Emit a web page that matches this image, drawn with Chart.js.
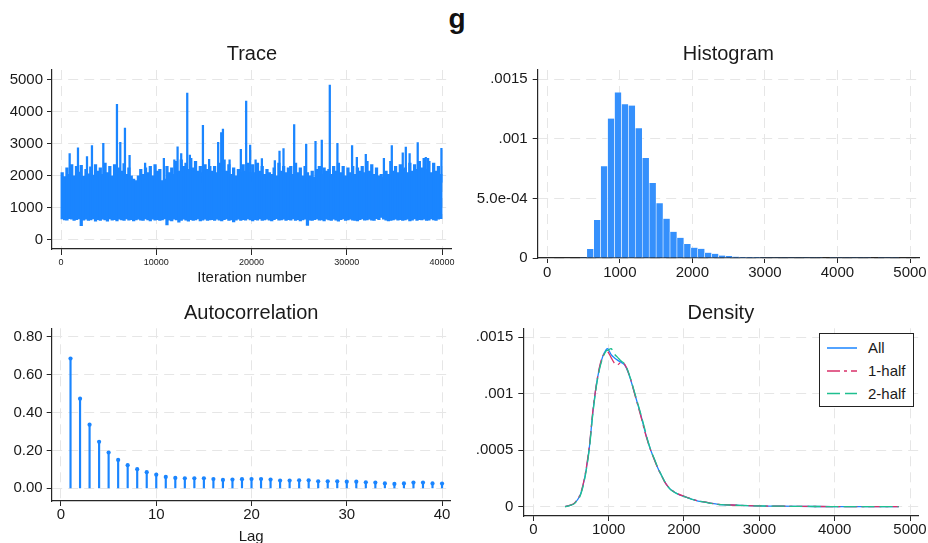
<!DOCTYPE html>
<html><head><meta charset="utf-8">
<script src="https://cdn.jsdelivr.net/npm/chart.js@4.4.1/dist/chart.umd.min.js"></script>
<style>
html,body{margin:0;padding:0;width:928px;height:543px;overflow:hidden;background:#fff;}
canvas{position:absolute;}
#main{position:absolute;left:0;top:5px;width:914px;text-align:center;font:bold 28px "Liberation Sans",Arial,sans-serif;line-height:28px;color:#111;}
#legend{position:absolute;left:819px;top:333px;width:95px;height:74px;box-sizing:border-box;border:1px solid #222;background:#fff;font:15px "Liberation Sans",Arial,sans-serif;color:#1a1a1a;}
#legend svg{position:absolute;left:0;top:0;}
#legend span{position:absolute;left:48px;line-height:18px;}
</style></head><body>
<div id="main">g</div>
<canvas id="c1" width="464" height="260" style="left:0;top:30px"></canvas>
<canvas id="c2" width="464" height="260" style="left:464px;top:30px"></canvas>
<canvas id="c3" width="464" height="270" style="left:0;top:290px"></canvas>
<canvas id="c4" width="464" height="253" style="left:464px;top:290px"></canvas>
<div id="legend"></div>
<script>
// ---------------- DATA ----------------
// Trace: envelope of the MCMC chain per bin of 250 iterations
const traceBinWidth = 250;
const traceHi = [
 2100,1980,2250,2050,2350,2000,2300,2120,2330,1990,2200,2060,2280,2020,2350,2150,
 2250,2050,2400,2100,2300,2000,2350,2080,2250,2150,2380,2050,2250,2000,1900,1850,
 2000,2200,2050,2250,2100,2300,2000,2350,2150,2200,1850,1900,2300,2100,2250,2050,
 2450,2150,2500,2300,2400,2200,2550,2250,2450,2150,2300,2100,2350,2200,2300,2150,
 2300,2100,2400,2250,2500,2150,2350,2050,2250,2000,2200,2100,2350,2150,2400,2100,
 2350,2100,2400,2150,2300,2050,2200,2100,2050,2250,2000,2400,2150,2300,2100,2250,
 2300,2050,2400,2100,2250,2000,2300,2100,2000,2150,1950,2200,2300,2050,2250,2150,
 2200,2050,2300,2150,2400,2100,2300,2000,2250,2100,2300,2050,2250,2150,2300,2100,
 2450,2150,2350,2050,2250,2000,2050,1950,2150,2050,2450,2150,2300,2100,2350,2200,
 2250,2100,2400,2150,2350,2200,2450,2250,2550,2200,2450,2100,2400,2150,2300,2050
];
const traceLo = [
 650,620,610,660,640,600,630,650,440,610,640,600,620,650,580,630,
 600,640,620,580,650,610,630,590,640,620,600,650,610,630,590,620,
 640,610,600,650,620,590,640,610,630,600,620,650,460,610,590,640,
 620,550,600,640,610,580,630,600,620,650,590,610,640,600,620,630,
 600,640,610,590,630,650,600,620,560,610,640,600,630,610,650,620,
 590,630,610,650,600,620,640,610,590,630,660,610,620,640,600,630,
 610,650,600,630,590,620,640,450,610,600,630,650,610,620,590,640,
 620,600,640,610,580,630,650,600,620,640,610,600,590,630,650,610,
 620,640,610,600,660,630,700,640,610,590,600,620,640,610,630,600,
 620,640,590,610,650,600,630,620,640,600,610,650,620,600,640,660
];
const spikeIter = [910,1783,2730,3250,4440,5875,6225,6714,7200,8830,10800,11900,12240,12620,13254,13530,14900,15550,16500,16820,17000,17700,18880,19440,19860,20430,21090,22450,22940,23360,24480,25740,26720,27380,28220,29020,30560,31060,32000,33900,34730,35880,36200,36600,37450,38300,38540,39940];
const spikeVal  = [2700,2880,2600,2945,3017,4239,3050,3497,2640,2400,2550,2500,2910,2700,4593,2650,3580,2520,3050,3350,3466,2500,2830,4343,2965,2500,2537,2480,2777,2850,3602,2996,3080,3120,4844,3017,2945,2580,2673,2550,2945,2720,2900,2700,3040,2580,2550,2860];
const spikeBase = 1800;
const traceXTicks = [0,10000,20000,30000,40000];
const traceXLabels = ['0','10000','20000','30000','40000'];
const traceYTicks = [0,1000,2000,3000,4000,5000];
const traceYLabels = ['0','1000','2000','3000','4000','5000'];

// Histogram: 46 equal-width bins
const histStart = 449, histWidth = 95.6;
const histDens = [
 0.000006,0.000075,0.00032,0.00077,0.00117,0.00139,0.00129,0.00128,0.00109,0.00084,
 0.00063,0.00046,0.00033,0.00022,0.00017,0.000117,0.000087,0.000078,0.000045,0.000036,
 0.00002,0.000017,0.000011,0.000009,0.000008,0.000008,0.000007,0.000007,0.000006,0.000006,
 0.000006,0.000006,0.000006,0.000006,0.000006,0,0.000006,0.000006,0.000006,0.000006,
 0.000006,0.000006,0,0.000006,0.000006,0.000006
];
const histXTicks = [0,1000,2000,3000,4000,5000];
const histXLabels = ['0','1000','2000','3000','4000','5000'];
const histYTicks = [0,0.0005,0.001,0.0015];
const histYLabels = ['0','5.0e-04','.001','.0015'];

// Autocorrelation
const acfLags = [1,2,3,4,5,6,7,8,9,10,11,12,13,14,15,16,17,18,19,20,21,22,23,24,25,26,27,28,29,30,31,32,33,34,35,36,37,38,39,40];
const acfVals = [0.685,0.473,0.336,0.245,0.189,0.150,0.122,0.101,0.085,0.072,
 0.060,0.055,0.053,0.053,0.053,0.049,0.044,0.046,0.048,0.049,
 0.049,0.046,0.041,0.041,0.042,0.042,0.037,0.037,0.037,0.035,
 0.035,0.032,0.030,0.026,0.023,0.026,0.030,0.030,0.026,0.025];
const acfXTicks = [0,10,20,30,40];
const acfXLabels = ['0','10','20','30','40'];
const acfYTicks = [0,0.2,0.4,0.6,0.8];
const acfYLabels = ['0.00','0.20','0.40','0.60','0.80'];

// Density
const densX = [421,501,545,612,656,701,745,789,834,878,922,967,989,1033,1078,1122,1166,1211,1255,1299,1344,1388,1432,1477,1521,1565,1610,1654,1698,1743,1787,1831,1920,2009,2098,2186,2275,2364,2452,2630,2851,3073,3517,3960,4400,4850];
const densAll = [0,0.0000148,0.0000296,0.0000888,0.000178,0.000325,0.000533,0.000828,0.001065,0.001228,0.001331,0.001391,0.001399,0.001346,0.001317,0.001296,0.001278,0.001257,0.001198,0.001109,0.001006,0.000902,0.000799,0.00068,0.000577,0.000488,0.000414,0.00034,0.000281,0.000222,0.000178,0.000148,0.000112,0.0000888,0.000068,0.00005,0.0000414,0.0000296,0.0000207,0.0000148,0.0000089,0.0000059,0.000003,0.000001,0.0000005,0];
const densHalf1 = [0,0.000016,0.000032,0.000095,0.000185,0.000335,0.000545,0.00084,0.00107,0.001235,0.001335,0.00137,0.001372,0.00132,0.00127,0.001258,0.00128,0.001262,0.0012,0.001112,0.001,0.000896,0.00079,0.000672,0.000572,0.000486,0.00041,0.000338,0.00028,0.00022,0.00018,0.00015,0.000113,0.00009,0.000069,0.000051,0.000042,0.00003,0.000021,0.000015,0.000009,0.000006,0.000003,0.000001,0.0000005,0];
const densHalf2 = [0,0.000013,0.000027,0.000082,0.00017,0.000315,0.00052,0.000815,0.001055,0.001215,0.00132,0.00138,0.001385,0.0014,0.00135,0.00132,0.00129,0.001265,0.001205,0.001115,0.001012,0.00091,0.000808,0.000695,0.000582,0.00049,0.000418,0.000342,0.000282,0.000224,0.000177,0.000146,0.000111,0.000088,0.000067,0.000049,0.000041,0.000029,0.00002,0.000014,0.000009,0.000006,0.000003,0.000001,0.0000005,0];
const densXTicks = [0,1000,2000,3000,4000,5000];
const densXLabels = ['0','1000','2000','3000','4000','5000'];
const densYTicks = [0,0.0005,0.001,0.0015];
const densYLabels = ['0','.0005','.001','.0015'];
const densNames = ['All','1-half','2-half'];

// ---------------- STYLE ----------------
const FONT = '"Liberation Sans", Arial, Helvetica, sans-serif';
Chart.defaults.font.family = FONT;
Chart.defaults.color = '#1a1a1a';
const BLUE = '#1a85ff', PINK = '#d9306a', GREEN = '#1fbf8f';
const GRID = '#e6e6e6', AXIS = '#262626';
const DASH_GRID = [10, 6];
const DASH1 = [13, 4, 3, 4], DASH2 = [13, 5];

function fixTicks(vals){ return s => { s.ticks = vals.map(v => ({value: v})); }; }
function xScale(o){
  return {
    type:'linear', min:o.min, max:o.max, offset:false, bounds:'data',
    grid:{offset:false, color:GRID, lineWidth:1, tickLength:o.tl, tickColor:AXIS, tickWidth:1},
    border:{display:true, color:AXIS, width:1.2, dash:DASH_GRID},
    ticks:{font:{size:o.fs}, padding:o.pad, autoSkip:false, maxRotation:0, color:'#1a1a1a',
      callback:(v,i)=>o.labels[i]},
    title: o.title ? {display:true, text:o.title, font:{size:15}, padding:{top:0,bottom:0}, color:'#1a1a1a'} : {display:false},
    afterBuildTicks: fixTicks(o.ticks),
    afterFit: s => { s.height = o.h; s.paddingLeft = 0; s.paddingRight = 0; s.paddingTop = 0; s.paddingBottom = 0; }
  };
}
function yScale(o){
  return {
    type:'linear', min:o.min, max:o.max, offset:false, bounds:'data', beginAtZero:false,
    grid:{offset:false, color:GRID, lineWidth:1, tickLength:5, tickColor:AXIS, tickWidth:1},
    border:{display:true, color:AXIS, width:1.2, dash:DASH_GRID},
    ticks:{font:{size:15}, padding:o.pad, autoSkip:false, color:'#1a1a1a', callback:(v,i)=>o.labels[i]},
    afterBuildTicks: fixTicks(o.ticks),
    afterFit: s => { s.width = o.w; s.paddingLeft = 0; s.paddingRight = 0; s.paddingTop = 0; s.paddingBottom = 0; }
  };
}
function titleOpts(text, top, bottom){
  return {display:true, text, fullSize:false, font:{size:20, weight:'normal'}, padding:{top, bottom}, color:'#1a1a1a'};
}
const common = { responsive:false, animation:false, events:[] };

// ---------------- TRACE ----------------
new Chart(document.getElementById('c1'), {
  type:'bar',
  data:{datasets:[
    {data: traceHi.map((h,i)=>({x:(i+0.5)*traceBinWidth, y:[traceLo[i], h]})), backgroundColor:BLUE, borderWidth:0, barThickness:2.6, grouped:false},
    {data: spikeIter.map((t,i)=>({x:t, y:[spikeBase, spikeVal[i]]})), backgroundColor:BLUE, borderWidth:0, barThickness:1.6, grouped:false}
  ]},
  options:{...common,
    layout:{padding:{left:0, right:12.3, top:0, bottom:3}},
    plugins:{legend:{display:false}, tooltip:{enabled:false}, title:titleOpts('Trace', 12, 4)},
    scales:{
      x:xScale({min:-945, max:41018, ticks:traceXTicks, labels:traceXLabels, fs:9, tl:6, pad:2, h:38, title:'Iteration number'}),
      y:yScale({min:-291, max:5313, ticks:traceYTicks, labels:traceYLabels, w:52, pad:4})
    }
  }
});

// ---------------- HISTOGRAM ----------------
new Chart(document.getElementById('c2'), {
  type:'bar',
  data:{datasets:[
    {data: histDens.map((d,i)=>({x:histStart + (i+0.5)*histWidth, y:d})), backgroundColor:'#3590fc',
     borderColor:'rgba(255,255,255,0.75)', borderWidth:{left:0.6,right:0.6,top:0,bottom:0}, borderSkipped:false,
     barPercentage:1, categoryPercentage:1, grouped:false}
  ]},
  options:{...common,
    layout:{padding:{left:0, right:9, top:0, bottom:0}},
    plugins:{legend:{display:false}, tooltip:{enabled:false}, title:titleOpts('Histogram', 12, 4)},
    scales:{
      x:xScale({min:-132, max:5124, ticks:histXTicks, labels:histXLabels, fs:15, tl:5, pad:1, h:32}),
      y:yScale({min:0, max:0.001578, ticks:histYTicks, labels:histYLabels, w:73.7, pad:5})
    }
  }
});

// ---------------- AUTOCORRELATION ----------------
new Chart(document.getElementById('c3'), {
  type:'bar',
  data:{datasets:[
    {type:'scatter', data: acfLags.map((l,i)=>({x:l, y:acfVals[i]})), pointRadius:2.1, pointBackgroundColor:BLUE, pointBorderWidth:0, showLine:false},
    {data: acfLags.map((l,i)=>({x:l, y:[0, acfVals[i]]})), backgroundColor:BLUE, borderWidth:0, barThickness:1.5, grouped:false}
  ]},
  options:{...common,
    layout:{padding:{left:0, right:13.3, top:0, bottom:14}},
    plugins:{legend:{display:false}, tooltip:{enabled:false}, title:titleOpts('Autocorrelation', 11, 3.3)},
    scales:{
      x:xScale({min:-0.976, max:40.91, ticks:acfXTicks, labels:acfXLabels, fs:15, tl:5, pad:0, h:45, title:'Lag'}),
      y:yScale({min:-0.067, max:0.8443, ticks:acfYTicks, labels:acfYLabels, w:51.7, pad:4})
    }
  }
});

// ---------------- DENSITY ----------------
const densSeries = [densAll, densHalf1, densHalf2];
const densColors = [BLUE, PINK, GREEN];
const densDash = [[], DASH1, DASH2];
new Chart(document.getElementById('c4'), {
  type:'scatter',
  data:{datasets: densSeries.map((ys,k)=>({
    label: densNames[k],
    data: densX.map((x,i)=>({x, y:ys[i]})),
    showLine:true, pointRadius:0, borderColor:densColors[k], borderWidth:1.3, borderDash:densDash[k],
    tension:0.3, order:3-k
  }))},
  options:{...common,
    layout:{padding:{left:0, right:9.7, top:0, bottom:0}},
    plugins:{legend:{display:false}, tooltip:{enabled:false}, title:titleOpts('Density', 11, 3.3)},
    scales:{
      x:xScale({min:-133, max:5110, ticks:densXTicks, labels:densXLabels, fs:15, tl:5, pad:0, h:27}),
      y:yScale({min:-0.0000824, max:0.0015797, ticks:densYTicks, labels:densYLabels, w:59.3, pad:5})
    }
  }
});

// ---------------- DENSITY LEGEND ----------------
(function(){
  const lg = document.getElementById('legend');
  const rowY = [14, 37, 59.5];
  let svg = '<svg width="95" height="74" xmlns="http://www.w3.org/2000/svg">';
  densNames.forEach((n,k)=>{
    svg += '<line x1="7" x2="37" y1="'+rowY[k]+'" y2="'+rowY[k]+'" stroke="'+densColors[k]+'" stroke-width="1.5"' +
      (densDash[k].length ? ' stroke-dasharray="'+densDash[k].join(',')+'"' : '') + '/>';
  });
  svg += '</svg>';
  let html = svg;
  densNames.forEach((n,k)=>{ html += '<span style="top:'+(rowY[k]-9)+'px">'+n+'</span>'; });
  lg.innerHTML = html;
})();
</script>
</body></html>
